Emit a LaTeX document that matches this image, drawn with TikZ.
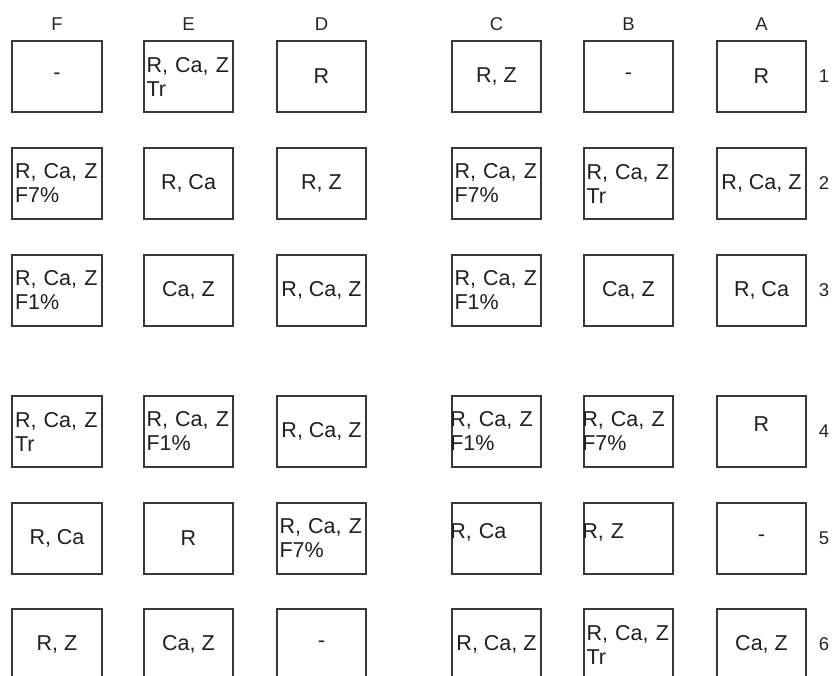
\documentclass[tikz,border=0pt]{standalone}
\usepackage{fontspec}
\setmainfont{Liberation Sans}
\newcommand\cellfont{\fontsize{21.5}{24}\selectfont}
\newcommand\hdrfont{\fontsize{18.5}{20}\selectfont}
\begin{document}
\begin{tikzpicture}[x=1pt,y=-1pt,
  cell/.style={draw=black!78, line width=1.8pt, minimum width=89.5pt, minimum height=71pt,
    inner sep=0pt, font=\cellfont, text=black!88},
  two/.style={align=left, text width=84pt, inner xsep=2.75pt},
  flush/.style={align=left, text width=92.5pt, inner xsep=-1.5pt},
  raised/.style={text height=8pt, text depth=8pt},
  hdr/.style={font=\hdrfont, text=black!85, inner sep=0pt}]
\clip (0,0) rectangle (838,676);
\fill[white] (0,0) rectangle (838,676);
% column headers
\node[hdr] (hF) at (57,24) {F};
\node[hdr] (hE) at (188.5,24) {E};
\node[hdr] (hD) at (321.5,24) {D};
\node[hdr] (hC) at (496.5,24) {C};
\node[hdr] (hB) at (628.5,24) {B};
\node[hdr] (hA) at (761.5,24) {A};
% row numbers
\node[hdr] (r1) at (824,76.5) {1};
\node[hdr] (r2) at (824,183.5) {2};
\node[hdr] (r3) at (824,290.5) {3};
\node[hdr] (r4) at (824,431.5) {4};
\node[hdr] (r5) at (824,538.5) {5};
\node[hdr] (r6) at (824,644.5) {6};
% row 1
\node[cell] (F1) at (57,76.5) {-};
\node[cell,two] (E1) at (188.5,76.5) {R, Ca, Z\\Tr};
\node[cell] (D1) at (321.5,76.5) {R};
\node[cell] (C1) at (496.5,76.5) {R, Z};
\node[cell] (B1) at (628.5,76.5) {-};
\node[cell] (A1) at (761.5,76.5) {R};
% row 2
\node[cell,two] (F2) at (57,183.5) {R, Ca, Z\\F7\%};
\node[cell] (E2) at (188.5,183.5) {R, Ca};
\node[cell] (D2) at (321.5,183.5) {R, Z};
\node[cell,two] (C2) at (496.5,183.5) {R, Ca, Z\\F7\%};
\node[cell,two] (B2) at (628.5,183.5) {R, Ca, Z\\Tr};
\node[cell] (A2) at (761.5,183.5) {R, Ca, Z};
% row 3
\node[cell,two] (F3) at (57,290.5) {R, Ca, Z\\F1\%};
\node[cell] (E3) at (188.5,290.5) {Ca, Z};
\node[cell] (D3) at (321.5,290.5) {R, Ca, Z};
\node[cell,two] (C3) at (496.5,290.5) {R, Ca, Z\\F1\%};
\node[cell] (B3) at (628.5,290.5) {Ca, Z};
\node[cell] (A3) at (761.5,290.5) {R, Ca};
% row 4
\node[cell,two] (F4) at (57,431.5) {R, Ca, Z\\Tr};
\node[cell,two] (E4) at (188.5,431.5) {R, Ca, Z\\F1\%};
\node[cell] (D4) at (321.5,431.5) {R, Ca, Z};
\node[cell,flush] (C4) at (496.5,431.5) {R, Ca, Z\\F1\%};
\node[cell,flush] (B4) at (628.5,431.5) {R, Ca, Z\\F7\%};
\node[cell,raised] (A4) at (761.5,431.5) {R};
% row 5
\node[cell] (F5) at (57,538.5) {R, Ca};
\node[cell] (E5) at (188.5,538.5) {R};
\node[cell,two] (D5) at (321.5,538.5) {R, Ca, Z\\F7\%};
\node[cell,flush,raised] (C5) at (496.5,538.5) {R, Ca};
\node[cell,flush,raised] (B5) at (628.5,538.5) {R, Z};
\node[cell] (A5) at (761.5,538.5) {-};
% row 6
\node[cell] (F6) at (57,644.5) {R, Z};
\node[cell] (E6) at (188.5,644.5) {Ca, Z};
\node[cell] (D6) at (321.5,644.5) {-};
\node[cell] (C6) at (496.5,644.5) {R, Ca, Z};
\node[cell,two] (B6) at (628.5,644.5) {R, Ca, Z\\Tr};
\node[cell] (A6) at (761.5,644.5) {Ca, Z};
\end{tikzpicture}
\end{document}
